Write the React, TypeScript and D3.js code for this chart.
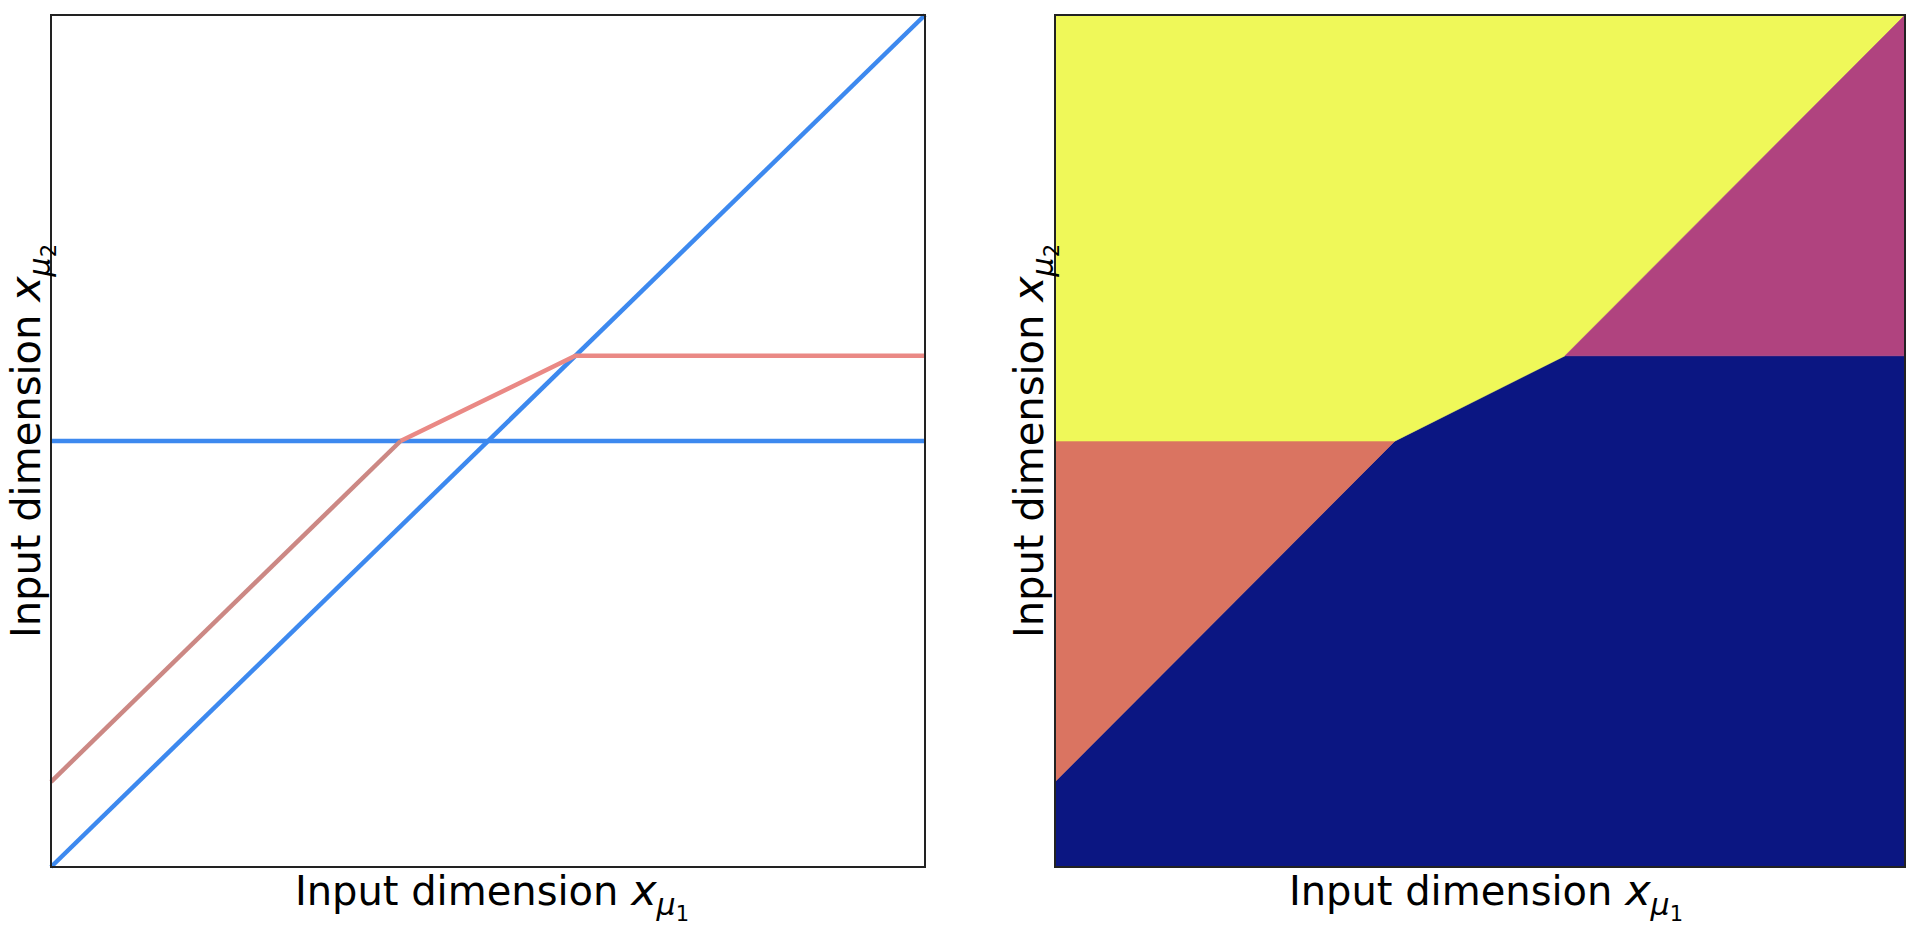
import React from 'react';
import * as d3 from 'd3';

// boundary lines in input space (x_mu1, x_mu2), both in [0, 1]
const diagonalX = [0, 1];
const diagonalY = [0, 1];
const thresholdX = [0, 1];
const thresholdY = [0.5, 0.5];
const foldLowX = [0, 0.4];
const foldLowY = [0.1, 0.5];
const foldHighX = [0.4, 0.6, 1];
const foldHighY = [0.5, 0.6, 0.6];

// decision regions for the right panel
const regionNames = ['navy', 'salmon', 'yellow', 'purple'];
const regionX = [
  [0, 0, 0.4, 0.6, 1, 1],
  [0, 0.4, 0],
  [0, 0, 0.4, 0.6, 1],
  [0.6, 1, 1],
];
const regionY = [
  [0, 0.1, 0.5, 0.6, 0.6, 0],
  [0.5, 0.5, 0.1],
  [1, 0.5, 0.5, 0.6, 1],
  [0.6, 0.6, 1],
];
const regionColors = ['#0b1682', '#da7461', '#eff859', '#b0437f'];

const W = 1926;
const H = 926;
const top = 15;
const bottom = 867;

const font = '"DejaVu Sans", sans-serif';

function XLabel({ cx }: { cx: number }) {
  return (
    <text x={cx} y={905} textAnchor="middle" fontFamily={font} fontSize={40} fill="#000">
      Input dimension{' '}
      <tspan fontStyle="italic" fontSize={43}>x</tspan>
      <tspan fontStyle="italic" fontSize={30} dy={10}>μ</tspan>
      <tspan fontSize={21} dy={6}>1</tspan>
    </text>
  );
}

function YLabel({ x }: { x: number }) {
  const cy = (top + bottom) / 2;
  return (
    <text
      transform={`translate(${x},${cy}) rotate(-90)`}
      textAnchor="middle"
      fontFamily={font}
      fontSize={40}
      fill="#000"
    >
      Input dimension{' '}
      <tspan fontStyle="italic" fontSize={43}>x</tspan>
      <tspan fontStyle="italic" fontSize={30} dy={10}>μ</tspan>
      <tspan fontSize={21} dy={6}>2</tspan>
    </text>
  );
}

export default function App() {
  // left panel scales
  const xL = d3.scaleLinear().domain([0, 1]).range([51, 925]);
  const yS = d3.scaleLinear().domain([0, 1]).range([bottom, top]);
  // right panel scales
  const xR = d3.scaleLinear().domain([0, 1]).range([1055, 1905]);

  const lineL = (xs: number[], ys: number[]) =>
    d3.line<number>().x((_, i) => xL(xs[i])).y((_, i) => yS(ys[i]))(xs) || '';

  const poly = (xs: number[], ys: number[]) =>
    d3.line<number>().x((_, i) => xR(xs[i])).y((_, i) => yS(ys[i]))(xs) + 'Z';

  return (
    <svg
      width={W}
      height={H}
      style={{ position: 'absolute', left: 0, top: 0, background: '#fff' }}
    >
      {/* left panel: boundary lines */}
      <g>
        <path d={lineL(diagonalX, diagonalY)} fill="none" stroke="#3d89ef" strokeWidth={4.5} />
        <path d={lineL(thresholdX, thresholdY)} fill="none" stroke="#3d89ef" strokeWidth={4.5} />
        <path d={lineL(foldLowX, foldLowY)} fill="none" stroke="#cc8884" strokeWidth={4.5} />
        <path
          d={lineL(foldHighX, foldHighY)}
          fill="none"
          stroke="#ea8985"
          strokeWidth={4.5}
          strokeLinejoin="round"
        />
        <rect
          x={xL(0)}
          y={yS(1)}
          width={xL(1) - xL(0)}
          height={yS(0) - yS(1)}
          fill="none"
          stroke="#222"
          strokeWidth={2}
        />
      </g>

      {/* right panel: regions */}
      <g>
        {regionNames.map((name, i) => (
          <path
            key={name}
            d={poly(regionX[i], regionY[i])}
            fill={regionColors[i]}
            stroke={regionColors[i]}
            strokeWidth={0.6}
          />
        ))}
        <rect
          x={xR(0)}
          y={yS(1)}
          width={xR(1) - xR(0)}
          height={yS(0) - yS(1)}
          fill="none"
          stroke="#222"
          strokeWidth={2}
        />
      </g>

      <XLabel cx={(xL(0) + xL(1)) / 2 + 4} />
      <XLabel cx={(xR(0) + xR(1)) / 2 + 6} />
      <YLabel x={40} />
      <YLabel x={1043} />
    </svg>
  );
}
